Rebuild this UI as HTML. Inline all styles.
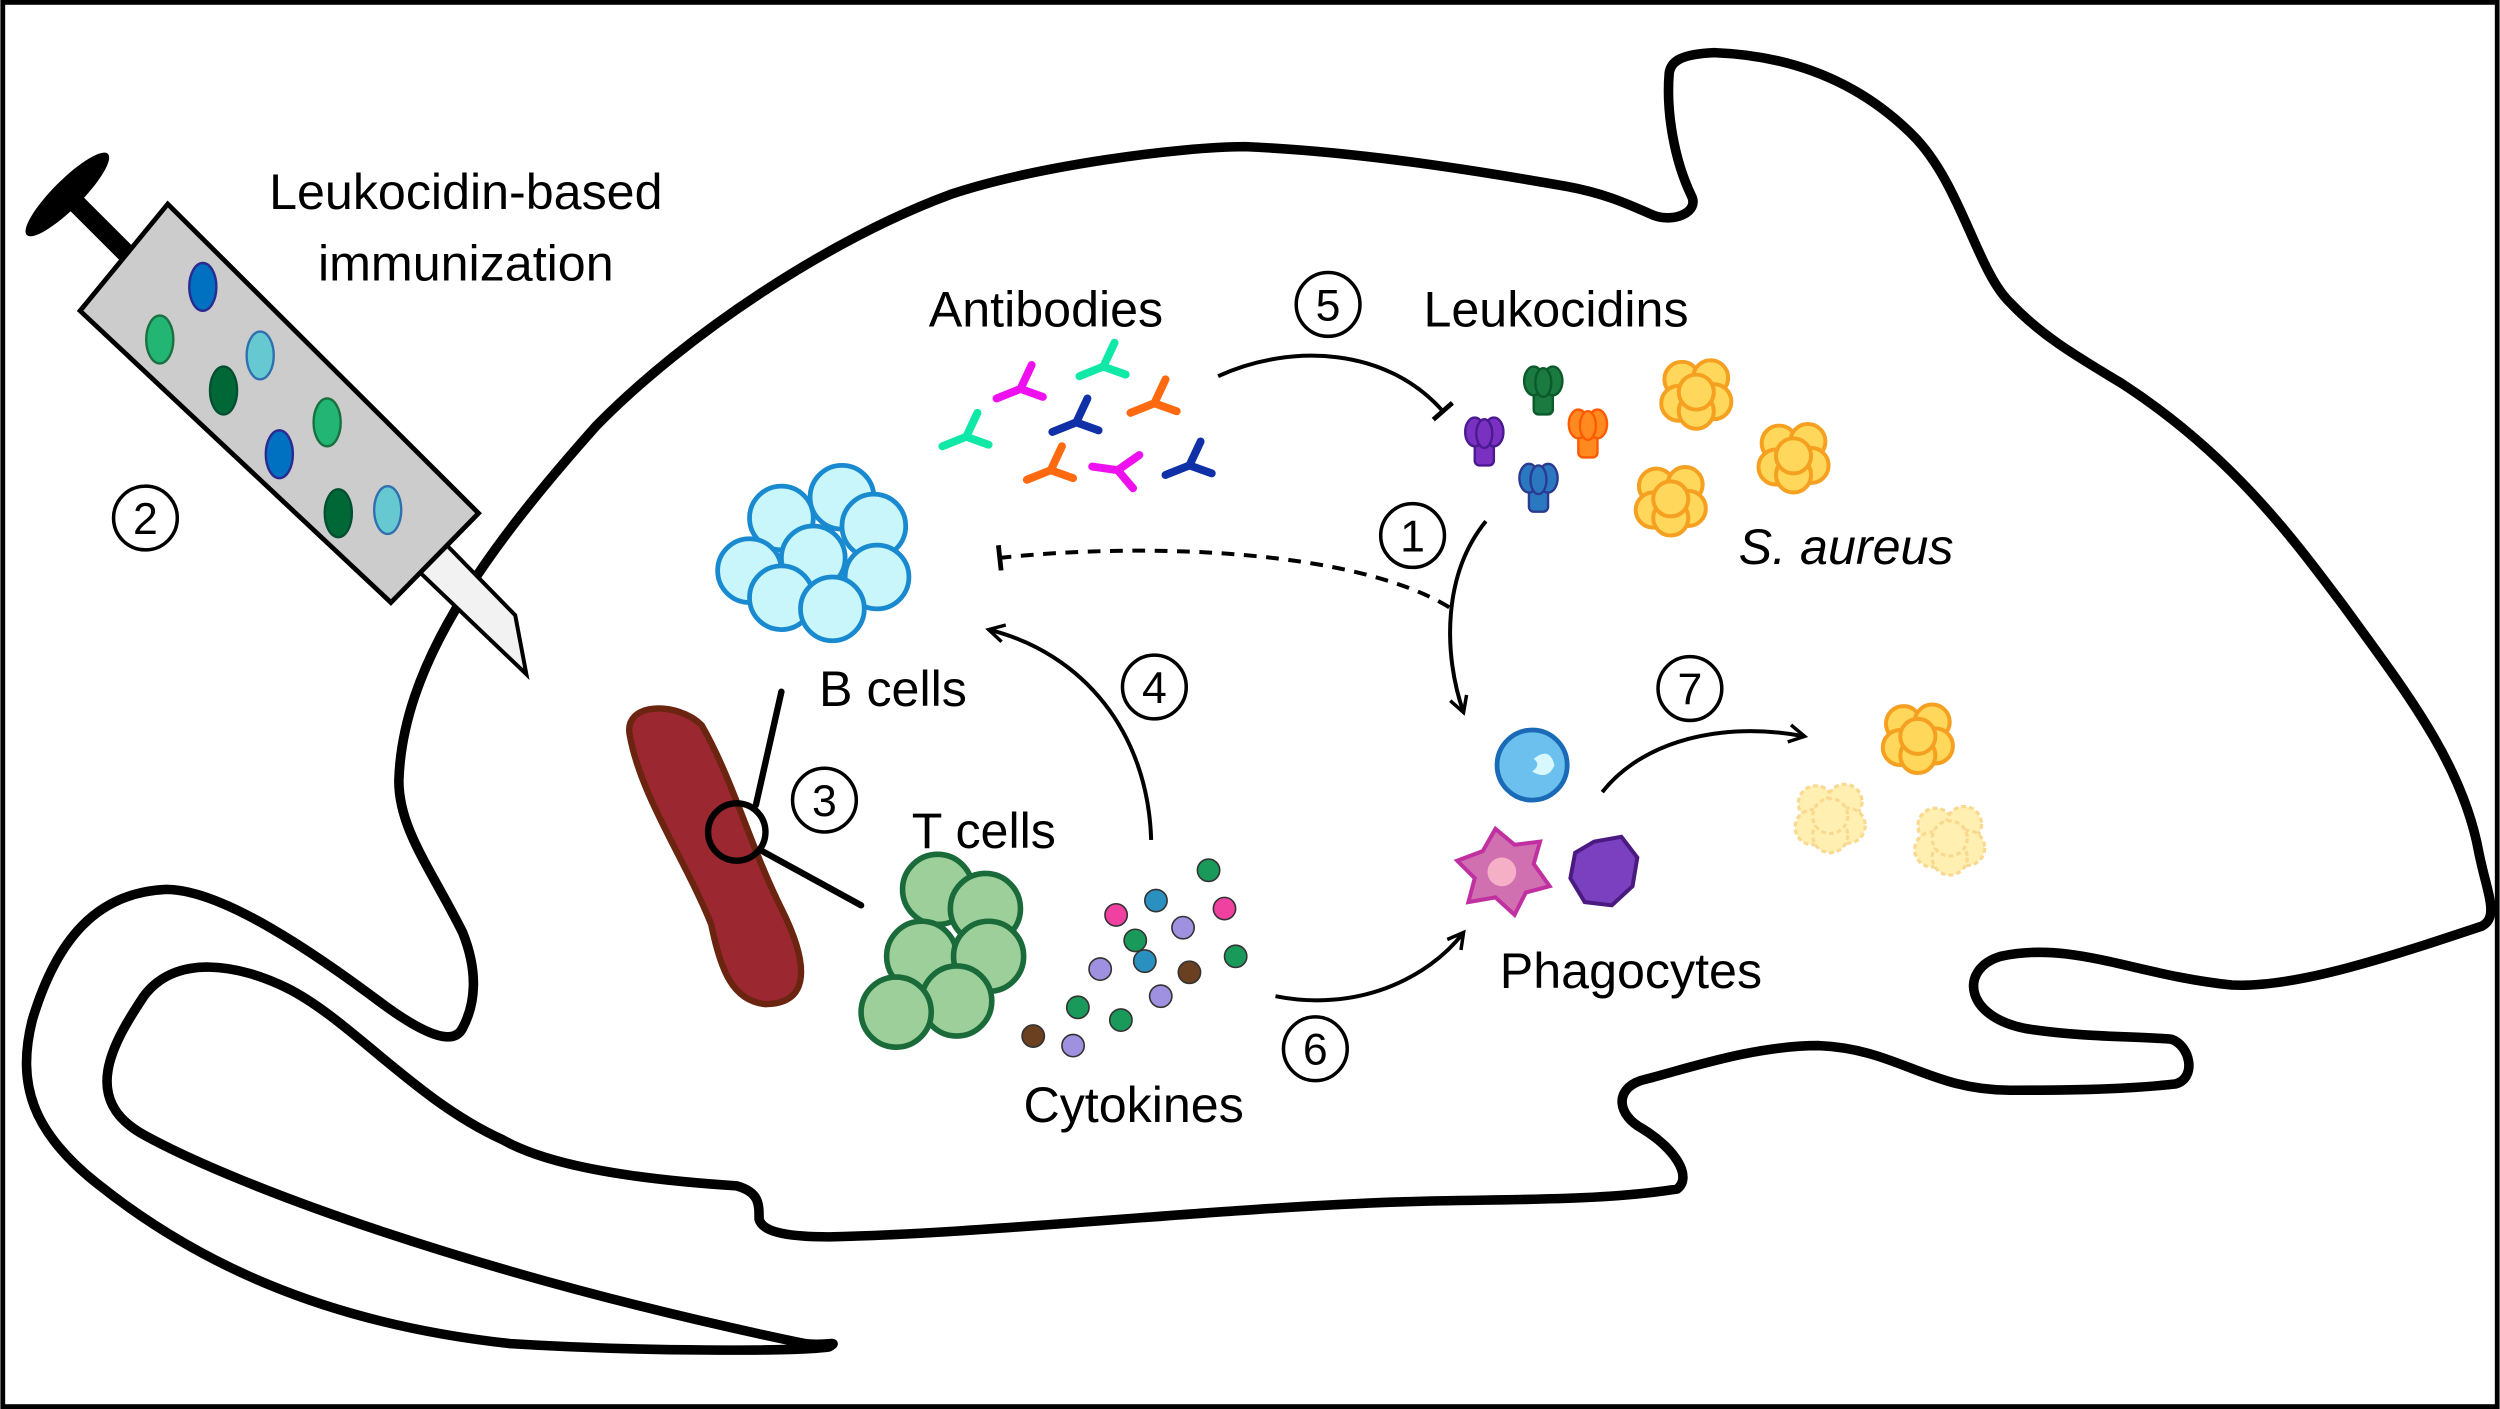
<!DOCTYPE html>
<html><head><meta charset="utf-8"><style>
html,body{margin:0;padding:0;background:#fff}
svg{display:block}
text{font-family:"Liberation Sans",Arial,sans-serif;fill:#000}
</style></head><body>
<svg width="2500" height="1409" viewBox="0 0 1568 884" xmlns="http://www.w3.org/2000/svg">
<defs>
<marker id="ar" viewBox="0 0 12 12" refX="10" refY="6" markerWidth="13" markerHeight="13" markerUnits="userSpaceOnUse" orient="auto"><path d="M1,1 L10,6 L1,11" fill="none" stroke="#000" stroke-width="2"/></marker>
<marker id="bar" viewBox="0 0 4 16" refX="2" refY="8" markerWidth="4" markerHeight="16" markerUnits="userSpaceOnUse" orient="auto"><path d="M2,0 L2,16" stroke="#000" stroke-width="3"/></marker>
<g id="ab"><path d="M0,0 L7,-15 M0,0 L-15,6 M0,0 L14,5" stroke-width="5" fill="none" stroke-linecap="round"/></g>
<g id="sa"><circle cx="-9" cy="-8" r="11"/><circle cx="9" cy="-9" r="11"/><circle cx="-11" cy="7" r="11"/><circle cx="11" cy="6" r="11"/><circle cx="0" cy="12" r="11"/><circle cx="0" cy="0" r="11"/></g>
<g id="lk"><rect x="-6" y="-2" width="12" height="16" rx="3"/><ellipse cx="-6" cy="-7" rx="6" ry="9"/><ellipse cx="6" cy="-7" rx="6" ry="9"/><ellipse cx="0" cy="-6" rx="5" ry="9"/></g>
</defs>
<rect x="1.5" y="1.5" width="1565" height="881" fill="#fff" stroke="#000" stroke-width="3"/>

<!-- mouse outline -->
<path d="M374,267 C430,210 520,150 596,122 C650,104 740,92 781,92 C850,95 920,106 983,117 C1010,122 1025,130 1037,135 C1050,140 1066,133 1061,123 C1050,100 1045,70 1047,46 C1048,38 1055,34 1075,33 C1130,35 1170,55 1200,85 C1230,115 1240,170 1261,190 C1280,210 1300,222 1330,240 C1400,285 1440,340 1470,380 C1510,435 1545,480 1555,535 C1560,560 1568,575 1557,581 C1500,600 1440,620 1400,618 C1340,612 1300,590 1255,600 C1228,608 1232,640 1275,646 C1310,651 1340,650 1362,652 C1374,656 1378,676 1365,680 C1330,684 1290,684 1261,684 C1210,684 1190,658 1141,656 C1100,656 1060,670 1029,678 C1012,684 1015,700 1030,708 C1050,720 1062,738 1052,746 C1000,754 940,752 880,754 C760,758 620,774 520,776 C490,776 478,772 476,765 C476,755 476,748 462,744 C400,740 345,732 315,715 C260,690 220,640 180,620 C150,605 110,598 90,625 C70,655 50,690 90,712 C150,745 300,800 500,842 C515,846 528,840 520,845 C500,848 400,848 320,843 C200,830 120,790 60,742 C20,710 10,680 20,640 C35,590 60,560 104,558 C140,558 200,600 240,630 C270,652 285,655 290,645 C298,630 300,610 290,585 C270,545 250,520 250,490 C252,420 300,350 374,267 Z" fill="none" stroke="#000" stroke-width="6" stroke-linejoin="round"/>

<!-- syringe -->
<g transform="translate(42,122) rotate(45)">
<ellipse cx="0" cy="0" rx="9" ry="36" fill="#000"/>
<rect x="0" y="-6" width="70" height="12" fill="#000"/>
</g>
<polygon points="262,358 279,341 323,386 330,423" fill="#f2f2f2" stroke="#000" stroke-width="2.5" stroke-linejoin="miter"/>
<polygon points="50,195 105,128 300,322 245,378" fill="#cccccc" stroke="#000" stroke-width="3"/>
<g stroke-width="1.5">
<ellipse cx="127" cy="180" rx="8.5" ry="15" fill="#0070c0" stroke="#2a2a90"/>
<ellipse cx="100" cy="213" rx="8.5" ry="15" fill="#22b573" stroke="#1a7040"/>
<ellipse cx="163" cy="223" rx="8.5" ry="15" fill="#66c8d0" stroke="#3070b0"/>
<ellipse cx="140" cy="245" rx="8.5" ry="15" fill="#006837" stroke="#005030"/>
<ellipse cx="205" cy="265" rx="8.5" ry="15" fill="#22b573" stroke="#1a7040"/>
<ellipse cx="175" cy="285" rx="8.5" ry="15" fill="#0070c0" stroke="#2a2a90"/>
<ellipse cx="212" cy="322" rx="8.5" ry="15" fill="#006837" stroke="#005030"/>
<ellipse cx="243" cy="320" rx="8.5" ry="15" fill="#66c8d0" stroke="#3070b0"/>
</g>

<!-- texts -->
<g font-size="31.5" text-anchor="middle">
<text x="292" y="131">Leukocidin-based</text>
<text x="292" y="176">immunization</text>
<text x="656" y="205">Antibodies</text>
<text x="976" y="205">Leukocidins</text>
<text x="1158" y="354" font-style="italic">S. aureus</text>
<text x="560" y="443">B cells</text>
<text x="617" y="532">T cells</text>
<text x="711" y="704">Cytokines</text>
<text x="1023" y="620">Phagocytes</text>
</g>
<!-- circled numbers -->
<g font-size="28" text-anchor="middle">
<circle cx="91" cy="325" r="20" fill="none" stroke="#000" stroke-width="2.2"/><text x="91" y="335">2</text>
<circle cx="517" cy="502" r="20" fill="none" stroke="#000" stroke-width="2.2"/><text x="517" y="512">3</text>
<circle cx="724" cy="431" r="20" fill="none" stroke="#000" stroke-width="2.2"/><text x="724" y="441">4</text>
<circle cx="833" cy="191" r="20" fill="none" stroke="#000" stroke-width="2.2"/><text x="833" y="201">5</text>
<circle cx="886" cy="336" r="20" fill="none" stroke="#000" stroke-width="2.2"/><text x="886" y="346">1</text>
<circle cx="825" cy="658" r="20" fill="none" stroke="#000" stroke-width="2.2"/><text x="825" y="668">6</text>
<circle cx="1060" cy="432" r="20" fill="none" stroke="#000" stroke-width="2.2"/><text x="1060" y="442">7</text>
</g>

<!-- arrows -->
<g fill="none" stroke="#000" stroke-width="2.5">
<path d="M764,236 C810,215 870,218 905,258" marker-end="url(#bar)"/>
<path d="M909,381 C850,345 720,340 627,350" stroke-dasharray="8,6" marker-end="url(#bar)"/>
<path d="M932,327 C905,360 905,410 918,447" marker-end="url(#ar)"/>
<path d="M722,527 C720,460 680,410 620,395" marker-end="url(#ar)"/>
<path d="M800,625 C850,635 895,615 918,585" marker-end="url(#ar)"/>
<path d="M1005,497 C1030,465 1080,452 1132,462" marker-end="url(#ar)"/>
</g>

<!-- antibodies -->
<use href="#ab" x="640" y="244" stroke="#ee10ee"/>
<use href="#ab" x="692" y="230" stroke="#10e8a8"/>
<use href="#ab" x="724" y="253" stroke="#ff6a10"/>
<use href="#ab" x="606" y="274" stroke="#10e8a8"/>
<use href="#ab" x="675" y="265" stroke="#1030a8"/>
<use href="#ab" x="659" y="295" stroke="#ff6a10"/>
<use href="#ab" x="701" y="295" stroke="#ee10ee" transform="rotate(30 701 295)"/>
<use href="#ab" x="746" y="292" stroke="#1030a8"/>

<!-- leukocidins -->
<use href="#lk" x="931" y="278" fill="#7a30c0" stroke="#4a1a90" stroke-width="1.5"/>
<use href="#lk" x="968" y="246" fill="#1a7a40" stroke="#0a5a2a" stroke-width="1.5"/>
<use href="#lk" x="996" y="273" fill="#ff8a20" stroke="#ff5a00" stroke-width="1.5"/>
<use href="#lk" x="965" y="307" fill="#2a78c0" stroke="#2a3a90" stroke-width="1.5"/>

<!-- S. aureus -->
<g fill="#ffd75a" stroke="#f5a020" stroke-width="2.5">
<use href="#sa" x="1064" y="246"/><use href="#sa" x="1125" y="286"/><use href="#sa" x="1048" y="313"/><use href="#sa" x="1203" y="462"/>
</g>
<g fill="#ffefb0" stroke="#f9d890" stroke-width="2" stroke-dasharray="3,2">
<use href="#sa" x="1148" y="512"/><use href="#sa" x="1223" y="526"/>
</g>

<!-- B cells -->
<g fill="#c8f6fb" stroke="#1a8ad0" stroke-width="3">
<circle cx="490" cy="325" r="20"/><circle cx="528" cy="312" r="20"/><circle cx="548" cy="330" r="20"/>
<circle cx="470" cy="358" r="20"/><circle cx="510" cy="350" r="20"/><circle cx="550" cy="362" r="20"/>
<circle cx="490" cy="375" r="20"/><circle cx="522" cy="382" r="20"/>
</g>

<!-- vessel -->
<path d="M395,462 C390,440 425,440 440,455 C460,490 470,530 490,570 C510,610 505,630 480,630 C460,628 452,610 446,580 C430,540 402,500 395,462 Z" fill="#9b2730" stroke="#6b2410" stroke-width="4"/>
<g stroke="#000" stroke-width="4" fill="none" stroke-linecap="round">
<circle cx="462" cy="522" r="18"/><path d="M474,505 L490,434 M478,534 L540,568"/>
</g>

<!-- T cells -->
<g fill="#9ccf9a" stroke="#1a6a3a" stroke-width="3.5">
<circle cx="588" cy="558" r="22"/><circle cx="618" cy="570" r="22"/><circle cx="578" cy="600" r="22"/>
<circle cx="620" cy="600" r="22"/><circle cx="600" cy="628" r="22"/><circle cx="562" cy="635" r="22"/>
</g>

<!-- cytokines -->
<g stroke="#333" stroke-width="1">
<circle cx="758" cy="546" r="7" fill="#1a9a5a"/><circle cx="700" cy="574" r="7" fill="#f040a0"/>
<circle cx="725" cy="565" r="7" fill="#2a90c0"/><circle cx="768" cy="570" r="7" fill="#f040a0"/>
<circle cx="742" cy="582" r="7" fill="#a090e0"/><circle cx="712" cy="590" r="7" fill="#1a9a5a"/>
<circle cx="690" cy="608" r="7" fill="#a090e0"/><circle cx="718" cy="603" r="7" fill="#2a90c0"/>
<circle cx="746" cy="610" r="7" fill="#6a4020"/><circle cx="775" cy="600" r="7" fill="#1a9a5a"/>
<circle cx="676" cy="632" r="7" fill="#1a9a5a"/><circle cx="703" cy="640" r="7" fill="#1a9a5a"/>
<circle cx="728" cy="625" r="7" fill="#a090e0"/><circle cx="648" cy="650" r="7" fill="#6a4020"/>
<circle cx="673" cy="656" r="7" fill="#a090e0"/>
</g>

<!-- phagocytes -->
<circle cx="961" cy="480" r="22" fill="#6cc0ee" stroke="#1a6ab8" stroke-width="3"/>
<path d="M962,476 q10,-8 13,4 q-4,10 -14,4 q6,-4 1,-8 z" fill="#d8f8ff"/>
<polygon points="938,520 950,530 966,528 962,542 972,556 957,560 950,574 938,563 921,566 925,551 914,540 930,534" fill="#d070b0" stroke="#c030a0" stroke-width="2.5"/>
<circle cx="942" cy="547" r="9" fill="#f5b0c8"/>
<polygon points="1000,528 1017,525 1027,538 1024,556 1011,568 994,566 985,551 988,535" fill="#7a40c0" stroke="#4a1a80" stroke-width="2.5"/>
</svg>
</body></html>
